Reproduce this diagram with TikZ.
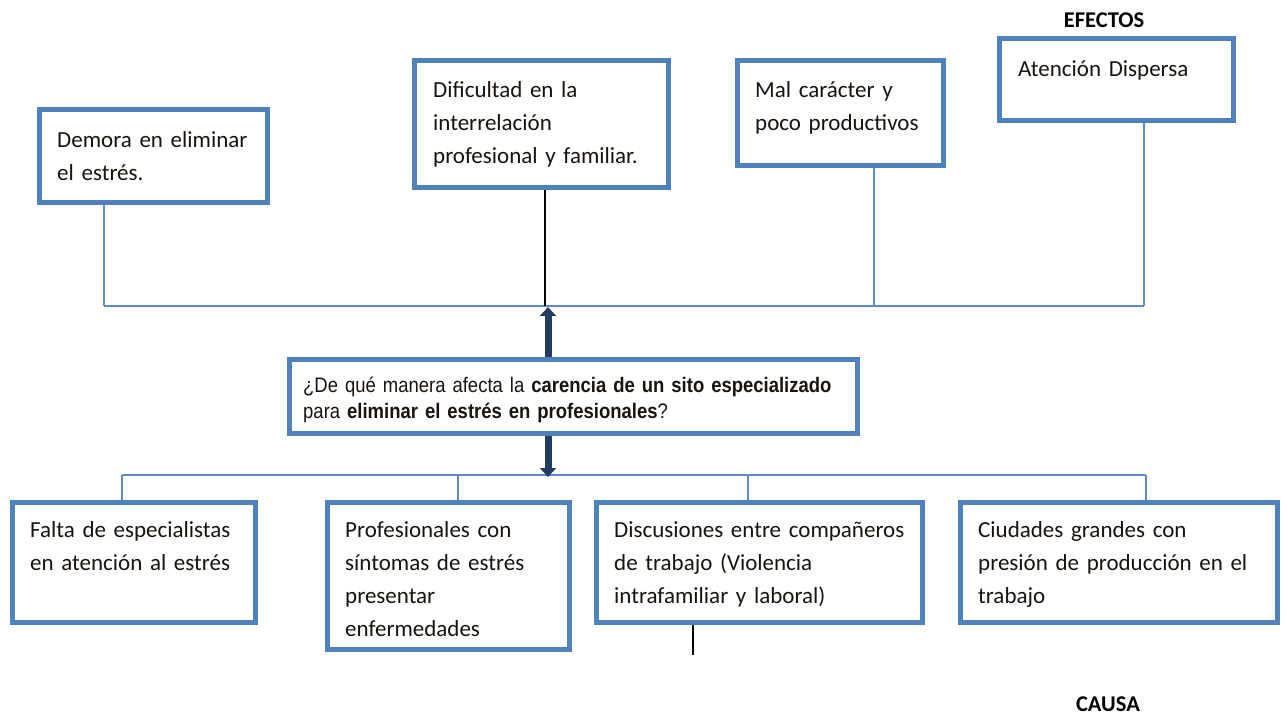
\documentclass[tikz,border=0pt]{standalone}
\usepackage{fontspec}
\setmainfont{Carlito}
\newfontfamily\qfont[FakeStretch=0.88]{Liberation Sans}
\usetikzlibrary{arrows.meta}
\definecolor{boxblue}{RGB}{79,129,189}
\definecolor{linkblue}{RGB}{95,140,200}
\definecolor{arrowblue}{RGB}{36,60,95}
\definecolor{ink}{RGB}{25,20,15}
\begin{document}
\begin{tikzpicture}[x=1pt,y=-1pt,
  box/.style={draw=boxblue, line width=5pt, fill=white, inner sep=0pt},
  txt/.style={anchor=base west, inner sep=0pt, align=left, text=ink,
              font=\fontsize{23}{33}\selectfont},
  qtxt/.style={anchor=base west, inner sep=0pt, align=left, text=ink,
              font=\qfont\fontsize{21}{26.5}\selectfont},
  conn/.style={draw=linkblue, line width=1.5pt},
  blk/.style={draw=black, line width=1.6pt},
  arr/.style={draw=arrowblue, line width=7pt, -{Triangle[width=16pt,length=9pt]}},
  lab/.style={inner sep=0pt, text=black, font=\fontsize{22.5}{24}\selectfont\bfseries}]
\useasboundingbox (0,0) rectangle (1288,718);

% named bus coordinates
\coordinate (pa) at (104,306);
\coordinate (pb) at (545,306);
\coordinate (pq) at (548,307);
\coordinate (pc) at (874,306);
\coordinate (pd) at (1144,306);
\coordinate (qb) at (548,477);
\coordinate (b1) at (122,475);
\coordinate (b2) at (458,475);
\coordinate (b3) at (748,475);
\coordinate (b4) at (1146,475);
\coordinate (e3end) at (693,655);

% connectors (drawn first, boxes on top)
\draw[conn] (pa) -- (pd);
\draw[conn] (b1) -- (b4);

% effect boxes
\node[box, minimum width=228, minimum height=93] (a) at (153.5,156) {};
\node[box, minimum width=254, minimum height=127] (b) at (541.5,124) {};
\node[box, minimum width=206, minimum height=105] (c) at (840.5,113) {};
\node[box, minimum width=234, minimum height=82] (d) at (1116.5,79.5) {};

\node[txt, text width=200] (ta) at (57,147) {Demora en eliminar\\el estrés.};
\node[txt, text width=230] (tb) at (433,97) {Dificultad en la\\interrelación\\profesional y familiar.};
\node[txt, text width=185] (tc) at (755,97) {Mal carácter y\\poco productivos};
\node[txt, text width=210] (td) at (1018,76) {Atención Dispersa};

% problem box
\node[box, minimum width=568, minimum height=74] (q) at (573.5,396.5) {};
\node[qtxt, text width=550] (tq) at (303,392)
  {¿De qué manera afecta la \textbf{carencia de un sito especializado}\\para \textbf{eliminar el estrés en profesionales}?};

% cause boxes
\node[box, minimum width=243, minimum height=120] (e1) at (134,562.5) {};
\node[box, minimum width=242, minimum height=147] (e2) at (448.5,576) {};
\node[box, minimum width=326, minimum height=120] (e3) at (759.5,562.5) {};
\node[box, minimum width=317, minimum height=120] (e4) at (1119,562.5) {};

\node[txt, text width=225] (t1) at (30,537) {Falta de especialistas\\en atención al estrés};
\node[txt, text width=220] (t2) at (345,537) {Profesionales con\\síntomas de estrés\\presentar\\enfermedades};
\node[txt, text width=305] (t3) at (614,537) {Discusiones entre compañeros\\de trabajo (Violencia\\intrafamiliar y laboral)};
\node[txt, text width=295] (t4) at (978,537) {Ciudades grandes con\\presión de producción en el\\trabajo};

% vertical connectors
\draw[conn] (pa |- a.south) -- (pa);
\draw[conn] (pc |- c.south) -- (pc);
\draw[conn] (pd |- d.south) -- (pd);
\draw[blk] (pb |- b.south) -- (pb);
\draw[conn] (b1) -- (b1 |- e1.north);
\draw[conn] (b2) -- (b2 |- e2.north);
\draw[conn] (b3) -- (b3 |- e3.north);
\draw[conn] (b4) -- (b4 |- e4.north);
\draw[blk] (e3end |- e3.south) -- (e3end);

% thick arrows
\draw[arr] (pq |- q.north) -- (pq);
\draw[arr] (qb |- q.south) -- (qb);

% labels
\node[lab] (efectos) at (1104,20) {EFECTOS};
\node[lab] (causa) at (1108,704) {CAUSA};
\end{tikzpicture}
\end{document}
